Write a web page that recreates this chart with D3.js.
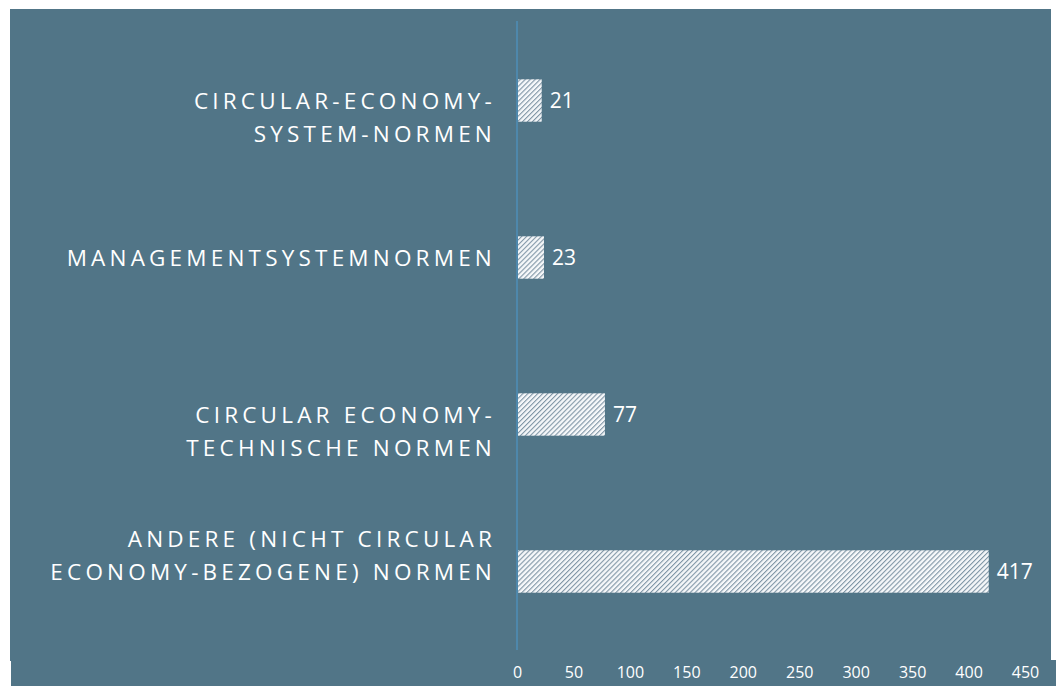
<!DOCTYPE html>
<html>
<head>
<meta charset="utf-8">
<script src="https://cdn.jsdelivr.net/npm/d3@7"></script>
<style>
  body { margin: 0; background: #fff; }
  svg { display: block; font-family: "Open Sans", sans-serif; }
</style>
</head>
<body>
<svg id="chart"></svg>
<script>
// data
const categories = [
  "CIRCULAR-ECONOMY-SYSTEM-NORMEN",
  "MANAGEMENTSYSTEMNORMEN",
  "CIRCULAR ECONOMY-TECHNISCHE NORMEN",
  "ANDERE (NICHT CIRCULAR ECONOMY-BEZOGENE) NORMEN"
];
const labelLines = [
  ["CIRCULAR-ECONOMY-", "SYSTEM-NORMEN"],
  ["MANAGEMENTSYSTEMNORMEN"],
  ["CIRCULAR ECONOMY-", "TECHNISCHE NORMEN"],
  ["ANDERE (NICHT CIRCULAR", "ECONOMY-BEZOGENE) NORMEN"]
];
const values = [21, 23, 77, 417];
const xTicks = [0, 50, 100, 150, 200, 250, 300, 350, 400, 450];

const width = 1056, height = 686;
const bg = "#517587";

const svg = d3.select("#chart").attr("width", width).attr("height", height);

// background panel (white edges like the reference)
svg.append("rect").attr("x", 10).attr("y", 9).attr("width", 1041).attr("height", 652).attr("fill", bg);
svg.append("rect").attr("x", 11).attr("y", 660).attr("width", 1045).attr("height", 26).attr("fill", bg);

// hatch pattern
const defs = svg.append("defs");
const pat = defs.append("pattern")
  .attr("id", "hatch")
  .attr("patternUnits", "userSpaceOnUse")
  .attr("width", 3.5).attr("height", 3.5)
  .attr("patternTransform", "rotate(45)");
pat.append("rect").attr("width", 3.5).attr("height", 3.5).attr("fill", "#f6f8fa");
pat.append("rect").attr("x", 0).attr("width", 1.1).attr("height", 3.5).attr("fill", "#7f95a5");

const x = d3.scaleLinear().domain([0, 450]).range([517, 1025]);
const y = d3.scaleBand().domain(categories).range([22, 650]).paddingInner(0.73).paddingOuter(0.365);

// axis line
svg.append("line")
  .attr("x1", x(0)).attr("x2", x(0))
  .attr("y1", 21).attr("y2", 650)
  .attr("stroke", "#4d9bd0").attr("stroke-width", 1);

// bars
svg.selectAll("rect.bar")
  .data(values)
  .enter()
  .append("rect")
  .attr("class", "bar")
  .attr("x", x(0) + 1)
  .attr("y", (d, i) => y(categories[i]))
  .attr("width", d => x(d) - x(0))
  .attr("height", y.bandwidth())
  .attr("fill", "url(#hatch)");

// value labels
svg.selectAll("text.val")
  .data(values)
  .enter()
  .append("text")
  .attr("class", "val")
  .attr("x", d => x(d) + 9)
  .attr("y", (d, i) => y(categories[i]) + y.bandwidth() / 2)
  .attr("dy", "0.36em")
  .attr("fill", "#fff")
  .attr("font-size", 21)
  .text(d => d);

// category labels
const lineH = 33;
const anchorLine = [0, 0, 0, 1]; // which line sits on the bar centre
categories.forEach(function (c, i) {
  const cy = y(c) + y.bandwidth() / 2;
  const t = svg.append("text")
    .attr("text-anchor", "end")
    .attr("fill", "#fff")
    .attr("font-size", 22.5)
    .attr("letter-spacing", 4.2);
  labelLines[i].forEach(function (l, j) {
    t.append("tspan")
      .attr("x", 496)
      .attr("y", cy + (j - anchorLine[i]) * lineH)
      .attr("dy", "0.36em")
      .text(l);
  });
});

// x axis tick labels
const xAxis = d3.axisBottom(x).tickValues(xTicks).tickSize(0).tickPadding(0);
const gx = svg.append("g")
  .attr("transform", "translate(0,667)")
  .call(xAxis);
gx.select(".domain").remove();
gx.selectAll("text")
  .attr("fill", "#fff")
  .attr("font-size", 16)
  .attr("font-family", "Open Sans, sans-serif");
</script>
</body>
</html>
